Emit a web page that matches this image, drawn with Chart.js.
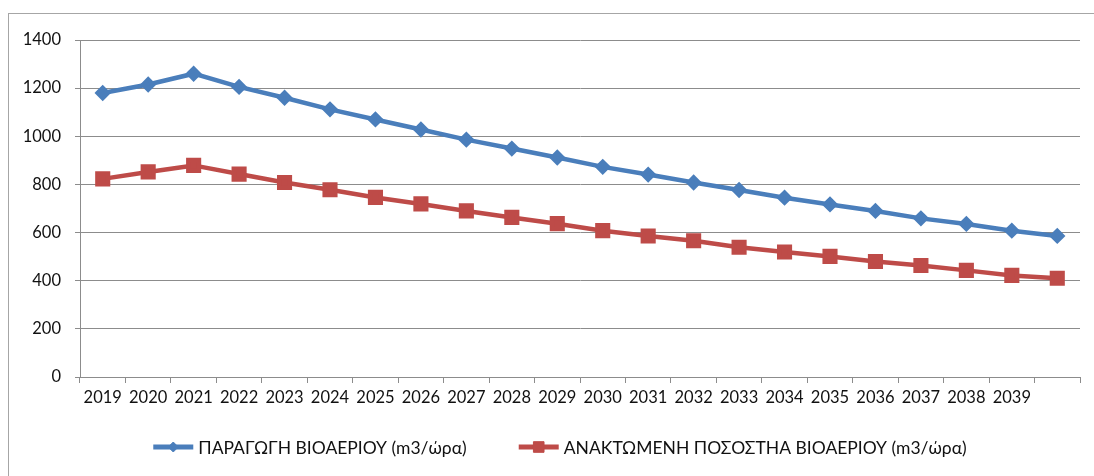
<!DOCTYPE html>
<html>
<head>
<meta charset="utf-8">
<script src="https://cdn.jsdelivr.net/npm/chart.js@4.4.1/dist/chart.umd.min.js"></script>
<style>
    html, body { margin: 0; padding: 0; background: #fff; overflow: hidden; }
    #frame { position: absolute; left: 8px; top: 13px; width: 1200px; height: 600px;
             border-left: 1px solid #a6a6a6; border-top: 1px solid #a6a6a6; }
    #wrap { position: absolute; left: 0; top: 0; width: 1094px; height: 476px; }
</style>
</head>
<body>
<div id="frame"></div>
<div id="wrap"><canvas id="biogasChart"></canvas></div>
<script>
// years on the axis (last category has no label in the original)
const years = ['2019', '2020', '2021', '2022', '2023', '2024', '2025', '2026', '2027', '2028',
    '2029', '2030', '2031', '2032', '2033', '2034', '2035', '2036', '2037', '2038', '2039', ''];

// ΠΑΡΑΓΩΓΗ ΒΙΟΑΕΡΙΟΥ
const biogasProduction = [1180, 1215, 1260, 1205, 1160, 1112, 1070, 1028, 986, 949, 912,
    873, 841, 808, 777, 745, 717, 690, 659, 636, 608, 586];

// ΑΝΑΚΤΩΜΕΝΗ ΠΟΣΟΣΤΗΑ ΒΙΟΑΕΡΙΟΥ
const recoveredBiogas = [823, 852, 879, 843, 808, 778, 746, 719, 690, 663, 637,
    608, 586, 566, 539, 519, 501, 480, 463, 443, 422, 410];

const seriesNames = ['ΠΑΡΑΓΩΓΗ ΒΙΟΑΕΡΙΟΥ (m3/ώρα)', 'ΑΝΑΚΤΩΜΕΝΗ ΠΟΣΟΣΤΗΑ ΒΙΟΑΕΡΙΟΥ (m3/ώρα)'];
const yMin = 0, yMax = 1400, yStep = 200;

const FONT = 'Lato, "Noto Sans", sans-serif';
const FONT_SIZE = 16.5;
const LEGEND_SIZE = 17.5;
const TEXT = '#111111';
const GRID = '#8c8c8c';

// Excel-style legend: line with the marker in the middle, then the text
const excelLegend = {
    id: 'excelLegend',
    afterDraw(chart) {
        const ctx = chart.ctx;
        ctx.save();
        ctx.font = LEGEND_SIZE + 'px ' + FONT;
        const sample = 40, gap = 5, between = 52;
        const items = chart.data.datasets.map(ds => ({ ds, w: ctx.measureText(ds.label).width }));
        const total = items.reduce((s, it) => s + sample + gap + it.w, 0) + between * (items.length - 1);
        const mid = (chart.chartArea.left + chart.chartArea.right) / 2 - 20;
        let x = mid - total / 2;
        const y = 447;
        items.forEach(it => {
            const ds = it.ds;
            ctx.strokeStyle = ds.borderColor;
            ctx.lineWidth = 5;
            ctx.beginPath();
            ctx.moveTo(x, y);
            ctx.lineTo(x + sample, y);
            ctx.stroke();
            ctx.fillStyle = ds.pointBackgroundColor;
            ctx.strokeStyle = ds.pointBorderColor;
            ctx.lineWidth = 1;
            Chart.helpers.drawPoint(ctx, { pointStyle: ds.pointStyle, radius: ds.pointRadius, borderWidth: 1 },
                x + sample / 2, y);
            ctx.fillStyle = TEXT;
            ctx.textBaseline = 'middle';
            ctx.textAlign = 'left';
            ctx.fillText(ds.label, x + sample + gap, y + 1);
            x += sample + gap + it.w + between;
        });
        ctx.restore();
    }
};

function initChart() {
    const ctx = document.getElementById('biogasChart').getContext('2d');
    new Chart(ctx, {
        type: 'line',
        data: {
            labels: years,
            datasets: [{
                label: seriesNames[0],
                data: biogasProduction,
                borderColor: '#4a7ebb',
                backgroundColor: '#4a7ebb',
                pointBackgroundColor: '#4a7ebb',
                pointBorderColor: '#4a7ebb',
                borderWidth: 4.5,
                pointStyle: 'rectRot',
                pointRadius: 5,
                tension: 0
            }, {
                label: seriesNames[1],
                data: recoveredBiogas,
                borderColor: '#be4b48',
                backgroundColor: '#be4b48',
                pointBackgroundColor: '#be4b48',
                pointBorderColor: '#be4b48',
                borderWidth: 4.5,
                pointStyle: 'rect',
                pointRadius: 7.5,
                tension: 0
            }]
        },
        options: {
            responsive: true,
            maintainAspectRatio: false,
            animation: false,
            layout: { padding: { left: 0, top: 40, right: 14, bottom: 59 } },
            plugins: { legend: { display: false }, tooltip: { enabled: false } },
            scales: {
                x: {
                    offset: true,
                    grid: { offset: true, drawOnChartArea: false, tickLength: 6, color: GRID },
                    border: { color: GRID },
                    ticks: { color: TEXT, font: { family: FONT, size: FONT_SIZE }, padding: 5,
                             maxRotation: 0, autoSkip: false },
                    afterFit: s => { s.height = 40; }
                },
                y: {
                    min: yMin, max: yMax,
                    grid: { color: GRID, tickLength: 5 },
                    border: { color: GRID },
                    ticks: { stepSize: yStep, color: TEXT, font: { family: FONT, size: FONT_SIZE }, padding: 14,
                             callback: v => String(v) },
                    afterFit: s => { s.width = 80; }
                }
            }
        },
        plugins: [excelLegend]
    });
}

window.onload = () => {
    initChart();
};
</script>
</body>
</html>
